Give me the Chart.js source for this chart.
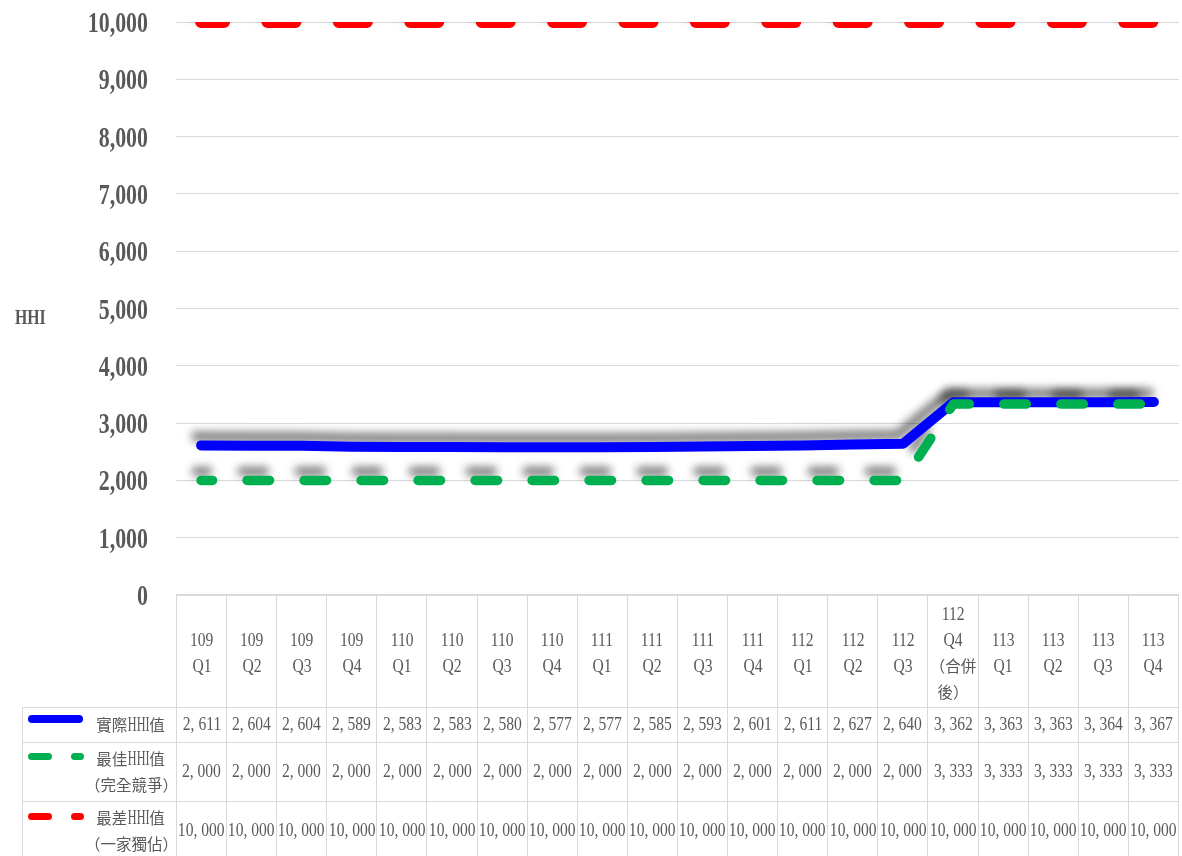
<!DOCTYPE html>
<html>
<head>
<meta charset="utf-8">
<script src="https://cdn.jsdelivr.net/npm/chart.js@4.4.1/dist/chart.umd.min.js"></script>
<style>
  html, body { margin: 0; padding: 0; background: #fff; overflow: hidden; }
  #wrap { position: relative; width: 1182px; height: 856px; }
  #chart { position: absolute; left: 0; top: 0; }
  #tbl {
    position: absolute; left: 22px; top: 594px;
    border-collapse: collapse; table-layout: fixed; width: 1157px;
    color: #595959; font-family: "Liberation Serif", "Noto Sans CJK TC", serif;
    font-size: 15.5px; line-height: 26px;
  }
  #tbl td { border: 1px solid #d9d9d9; padding: 0; text-align: center; vertical-align: middle; white-space: nowrap; overflow: visible; }
  #tbl tr.head td { padding-top: 6px; }
  #tbl td.blank { border: none; }
  .sq { display: inline-block; font: 19.5px "Liberation Serif"; transform: scaleX(0.8); }
  .sqn { display: inline-block; font: 21px "Liberation Serif"; transform: scaleX(0.58); }
  td.lg { position: relative; }
  .lt { margin-left: 62px; text-align: center; }
  .mk { position: absolute; border-radius: 4px; }
</style>
</head>
<body>
<div id="wrap">
  <canvas id="chart" width="1182" height="620"></canvas>
  <table id="tbl"></table>
</div>
<script>
// categories (each entry = lines of the table header cell)
const periods = [
  ["109", "Q1"], ["109", "Q2"], ["109", "Q3"], ["109", "Q4"],
  ["110", "Q1"], ["110", "Q2"], ["110", "Q3"], ["110", "Q4"],
  ["111", "Q1"], ["111", "Q2"], ["111", "Q3"], ["111", "Q4"],
  ["112", "Q1"], ["112", "Q2"], ["112", "Q3"], ["112", "Q4", "（合併", "後）"],
  ["113", "Q1"], ["113", "Q2"], ["113", "Q3"], ["113", "Q4"]
];

const actualHHI = [2611, 2604, 2604, 2589, 2583, 2583, 2580, 2577, 2577, 2585,
                   2593, 2601, 2611, 2627, 2640, 3362, 3363, 3363, 3364, 3367];
const bestHHI = [2000, 2000, 2000, 2000, 2000, 2000, 2000, 2000, 2000, 2000,
                 2000, 2000, 2000, 2000, 2000, 3333, 3333, 3333, 3333, 3333];
const worstHHI = [10000, 10000, 10000, 10000, 10000, 10000, 10000, 10000, 10000, 10000,
                  10000, 10000, 10000, 10000, 10000, 10000, 10000, 10000, 10000, 10000];

const seriesNames = [["實際HHI值"], ["最佳HHI值", "（完全競爭）"], ["最差HHI值", "（一家獨佔）"]];
const seriesColors = ["#0000FF", "#00B050", "#FF0000"];

const yMin = 0, yMax = 10000, yStep = 1000;
const yTitle = "HHI";

const fmtAxis = v => v.toLocaleString("en-US");
const fmtCell = v => v.toLocaleString("en-US").replace(",", ", ");

// draw a shadow under every line, above/left of it, before the lines themselves
const lineShadow = {
  id: "lineShadow",
  beforeDatasetsDraw(chart) {
    const { ctx, chartArea } = chart;
    const dpr = chart.currentDevicePixelRatio || 1;
    chart.getSortedVisibleDatasetMetas().forEach(meta => {
      ctx.save();
      ctx.beginPath();
      ctx.rect(chartArea.left - 10, chartArea.top, chartArea.width + 20, chartArea.bottom - chartArea.top);
      ctx.clip();
      ctx.translate(-5000, 0);
      ctx.shadowColor = "rgba(0,0,0,0.5)";
      ctx.shadowBlur = 8 * dpr;
      ctx.shadowOffsetX = (5000 - 5) * dpr;
      ctx.shadowOffsetY = -9 * dpr;
      meta.dataset.draw(ctx, chartArea);
      ctx.restore();
    });
  }
};

// narrow serif tick labels + horizontal axis title
const axisText = {
  id: "axisText",
  afterDraw(chart) {
    const { ctx } = chart;
    const s = chart.scales.y;
    ctx.save();
    ctx.fillStyle = "#595959";
    ctx.font = 'bold 30px "Liberation Serif"';
    ctx.textAlign = "right";
    ctx.textBaseline = "alphabetic";
    s.ticks.forEach(t => {
      const y = s.getPixelForValue(t.value);
      ctx.save();
      ctx.translate(148, y + 10);
      ctx.scale(0.73, 1);
      ctx.fillText(fmtAxis(t.value), 0, 0);
      ctx.restore();
    });
    ctx.font = 'bold 20px "Liberation Serif"';
    ctx.textAlign = "left";
    ctx.translate(15, 324);
    ctx.scale(0.79, 1);
    ctx.fillText(yTitle, 0, 0);
    ctx.restore();
  }
};

new Chart(document.getElementById("chart"), {
  type: "line",
  data: {
    labels: periods.map(p => p.join(" ")),
    datasets: [
      { label: seriesNames[0].join(""), data: actualHHI, borderColor: seriesColors[0], borderWidth: 10, order: 1 },
      { label: seriesNames[1].join(""), data: bestHHI, borderColor: seriesColors[1], borderWidth: 9.5,
        borderDash: [22.5, 34.5], borderDashOffset: 11, order: 0 },
      { label: seriesNames[2].join(""), data: worstHHI, borderColor: seriesColors[2], borderWidth: 12,
        borderDash: [28, 43.4], borderDashOffset: 5, order: 2 }
    ]
  },
  options: {
    responsive: false,
    animation: false,
    layout: { padding: { top: 22, bottom: 25, left: 0, right: 3 } },
    elements: {
      point: { radius: 0 },
      line: { tension: 0, borderCapStyle: "round", borderJoinStyle: "round", fill: false }
    },
    plugins: { legend: { display: false }, tooltip: { enabled: false } },
    scales: {
      x: { display: false, offset: true },
      y: {
        min: yMin, max: yMax,
        ticks: { stepSize: yStep, display: false },
        grid: { color: "#d9d9d9", lineWidth: 1, drawTicks: false },
        border: { display: false },
        afterFit(scale) { scale.width = 176; }
      }
    }
  },
  plugins: [lineShadow, axisText]
});

// data table under the plot
function markup(line) {
  return line.replace(/[A-Za-z0-9, ]+/g, m =>
    '<span class="' + (m.indexOf("HHI") >= 0 ? "sqn" : "sq") + '">' + m + "</span>");
}

const tbl = document.getElementById("tbl");
let html = '<colgroup><col style="width:154px">' + periods.map(() => "<col>").join("") + "</colgroup>";
html += '<tr class="head" style="height:113px"><td class="blank"></td>' +
  periods.map(p => "<td>" + p.map(markup).join("<br>") + "</td>").join("") + "</tr>";

const seriesData = [actualHHI, bestHHI, worstHHI];
const rowHeights = [35, 59, 59];
const markerTops = [7, 9.5, 10.5];
seriesData.forEach((vals, i) => {
  let mk;
  if (i === 0) {
    mk = '<div class="mk" style="left:5px;top:' + markerTops[i] + 'px;width:55px;height:8px;background:' + seriesColors[i] + '"></div>';
  } else {
    mk = '<div class="mk" style="left:5px;top:' + markerTops[i] + 'px;width:24px;height:7px;background:' + seriesColors[i] + '"></div>' +
         '<div class="mk" style="left:48px;top:' + markerTops[i] + 'px;width:13px;height:7px;background:' + seriesColors[i] + '"></div>';
  }
  html += '<tr style="height:' + rowHeights[i] + 'px"><td class="lg">' + mk +
    '<div class="lt">' + seriesNames[i].map(markup).join("<br>") + "</div></td>" +
    vals.map(v => '<td><span class="sq">' + fmtCell(v) + "</span></td>").join("") + "</tr>";
});
tbl.innerHTML = html;

// pull the narrowed spans together so their layout width matches what is seen
document.querySelectorAll(".sq, .sqn").forEach(el => {
  const k = el.classList.contains("sqn") ? 0.58 : 0.8;
  const m = -(el.offsetWidth * (1 - k)) / 2;
  el.style.marginLeft = m + "px";
  el.style.marginRight = m + "px";
});
</script>
</body>
</html>
